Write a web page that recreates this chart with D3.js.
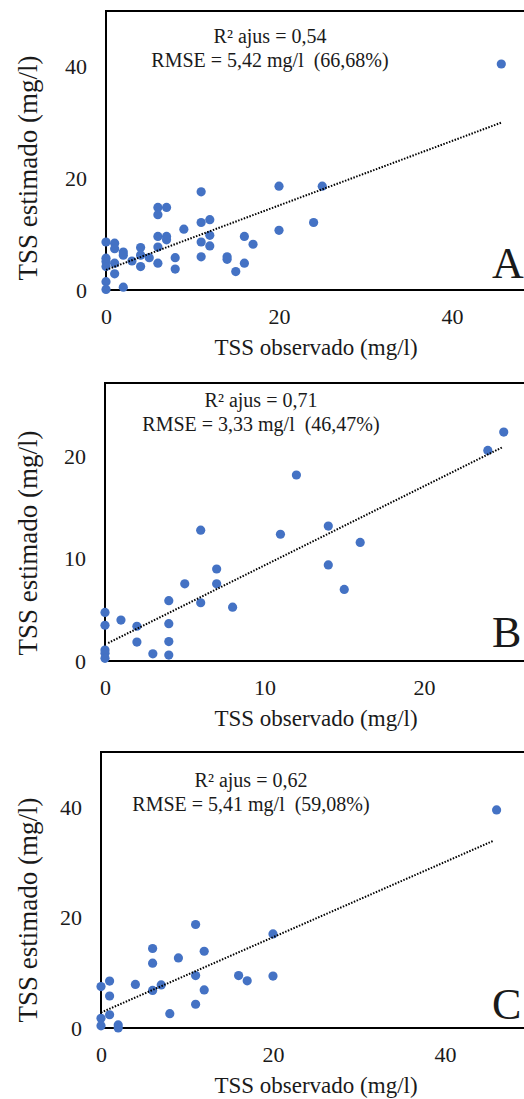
<!DOCTYPE html>
<html>
<head>
<meta charset="utf-8">
<script src="https://cdn.jsdelivr.net/npm/d3@7"></script>
<style>
  body { margin: 0; background: #fff; }
  svg text { font-family: "Liberation Serif", "Times New Roman", serif; fill: #1a1a1a; }
</style>
</head>
<body>
<div id="chart"></div>
<script>
// Panel A
const obsA = [0, 0, 0, 0, 0, 0, 1, 1, 1, 1, 2, 2, 2, 3, 4, 4, 4, 5, 6, 6, 6, 6, 6, 7, 7, 7, 8, 8, 9,
              11, 11, 11, 11, 12, 12, 12, 14, 14, 15, 16, 16, 17, 20, 20, 24, 25, 45.7];
const estA = [8.6, 5.7, 5.1, 4.2, 1.5, 0.1, 8.4, 7.4, 4.8, 2.9, 6.8, 6.25, 0.5, 5.2, 7.6, 6.25, 4.2, 5.8,
              14.8, 13.5, 9.6, 7.7, 4.8, 14.8, 9.6, 9.0, 5.8, 3.75, 10.9,
              17.6, 12.1, 8.6, 5.95, 12.6, 9.8, 7.9, 5.95, 5.5, 3.3, 9.6, 4.8, 8.2, 18.6, 10.7, 12.1, 18.6, 40.5];
const trendXA = [0, 45.7], trendYA = [3.6, 30.0];

// Panel B
const obsB = [0, 0, 0, 0, 0, 1, 2, 2, 3, 4, 4, 4, 4, 5, 6, 6, 7, 7, 8, 11, 12, 14, 14, 15, 16, 24, 25];
const estB = [4.75, 3.5, 1.07, 0.75, 0.26, 4.0, 3.4, 1.85, 0.7, 5.9, 3.65, 1.9, 0.58, 7.55, 12.8, 5.7,
              9.0, 7.55, 5.27, 12.4, 18.2, 13.2, 9.4, 7.0, 11.6, 20.6, 22.4];
const trendXB = [0.2, 24.9], trendYB = [1.76, 20.9];

// Panel C
const obsC = [0, 0, 0, 1, 1, 1, 2, 2, 4, 6, 6, 6, 7, 8, 9, 11, 11, 11, 12, 12, 16, 17, 20, 20, 46];
const estC = [7.5, 1.75, 0.4, 8.5, 5.8, 2.4, 0.55, 0, 7.9, 14.4, 11.75, 6.8, 7.8, 2.6, 12.7,
              18.75, 9.5, 4.3, 13.9, 6.9, 9.5, 8.55, 17.05, 9.4, 39.5];
const trendXC = [0, 45.6], trendYC = [2.8, 33.9];

const ticksA = [0, 20, 40], ticksB = [0, 10, 20], ticksC = [0, 20, 40];
const statsA = ["R\u00b2 ajus = 0,54", "RMSE = 5,42 mg/l  (66,68%)"];
const statsB = ["R\u00b2 ajus = 0,71", "RMSE = 3,33 mg/l  (46,47%)"];
const statsC = ["R\u00b2 ajus = 0,62", "RMSE = 5,41 mg/l  (59,08%)"];
const letters = ["A", "B", "C"];

const W = 524, H = 1099;
const svg = d3.select("#chart").append("svg")
    .attr("width", W)
    .attr("height", H);

const panels = [
  {obs: obsA, est: estA, tx: trendXA, ty: trendYA, ticks: ticksA, stats: statsA, letter: letters[0],
   left: 106, top: 11, bottom: 290, xMax: 50, xPx: 432.5, yMax: 50,
   statX: 270, statY: 43, yTitleY: 168, letterY: 278},
  {obs: obsB, est: estB, tx: trendXB, ty: trendYB, ticks: ticksB, stats: statsB, letter: letters[1],
   left: 105, top: 383, bottom: 661, xMax: 30, xPx: 478.5, yMax: 27.2,
   statX: 261, statY: 407, yTitleY: 543, letterY: 647},
  {obs: obsC, est: estC, tx: trendXC, ty: trendYC, ticks: ticksC, stats: statsC, letter: letters[2],
   left: 101, top: 752, bottom: 1028, xMax: 50, xPx: 430, yMax: 50,
   statX: 251, statY: 787, yTitleY: 910, letterY: 1019}
];

panels.forEach(function(p) {
    let x = d3.scaleLinear().domain([0, p.xMax]).range([p.left, p.left + p.xPx]);
    let y = d3.scaleLinear().domain([0, p.yMax]).range([p.bottom, p.top]);

    let g = svg.append("g");

    // tick labels
    let xAxis = g.append("g")
        .attr("transform", "translate(0," + p.bottom + ")")
        .call(d3.axisBottom(x).tickValues(p.ticks).tickSize(0).tickPadding(18.5));
    let yAxis = g.append("g")
        .attr("transform", "translate(" + p.left + ",0)")
        .call(d3.axisLeft(y).tickValues(p.ticks).tickSize(0).tickPadding(19));
    [xAxis, yAxis].forEach(function(a) {
        a.select(".domain").remove();
        a.selectAll("text")
            .attr("font-size", 22)
            .style("font-family", "'Liberation Serif', 'Times New Roman', serif")
            .attr("fill", "#1a1a1a");
    });

    // frame: top, left, bottom (right side runs past the picture)
    g.append("line")
        .attr("x1", x(0)).attr("x2", x(p.xMax))
        .attr("y1", y(p.yMax)).attr("y2", y(p.yMax))
        .attr("stroke", "#000").attr("stroke-width", 2);
    g.append("line")
        .attr("x1", x(0)).attr("x2", x(0))
        .attr("y1", y(p.yMax) - 1).attr("y2", y(0) + 1)
        .attr("stroke", "#000").attr("stroke-width", 2);
    g.append("line")
        .attr("x1", x(0)).attr("x2", x(p.xMax))
        .attr("y1", y(0)).attr("y2", y(0))
        .attr("stroke", "#000").attr("stroke-width", 2);

    // dots
    g.selectAll(".dot")
        .data(p.obs.map(function(d, i) { return {o: d, e: p.est[i]}; }))
        .enter().append("circle")
        .attr("class", "dot")
        .attr("cx", function(d) { return x(d.o); })
        .attr("cy", function(d) { return y(d.e); })
        .attr("r", 4.6)
        .attr("fill", "#4472C4");

    // trend line
    g.append("line")
        .attr("x1", x(p.tx[0])).attr("y1", y(p.ty[0]))
        .attr("x2", x(p.tx[1])).attr("y2", y(p.ty[1]))
        .attr("stroke", "#000")
        .attr("stroke-width", 2)
        .attr("stroke-dasharray", "1.5,1.5");

    // stats text
    p.stats.forEach(function(s, i) {
        g.append("text")
            .attr("x", p.statX)
            .attr("y", p.statY + i * 24)
            .attr("text-anchor", "middle")
            .attr("font-size", 20)
            .style("white-space", "pre")
            .text(s);
    });

    // panel letter
    g.append("text")
        .attr("x", 492)
        .attr("y", p.letterY)
        .attr("font-size", 44)
        .text(p.letter);

    // axis titles
    g.append("text")
        .attr("x", 316)
        .attr("y", p.bottom + 65)
        .attr("text-anchor", "middle")
        .attr("font-size", 23)
        .text("TSS observado (mg/l)");
    g.append("text")
        .attr("transform", "translate(37," + p.yTitleY + ") rotate(-90)")
        .attr("text-anchor", "middle")
        .attr("font-size", 27)
        .text("TSS estimado (mg/l)");
});
</script>
</body>
</html>
